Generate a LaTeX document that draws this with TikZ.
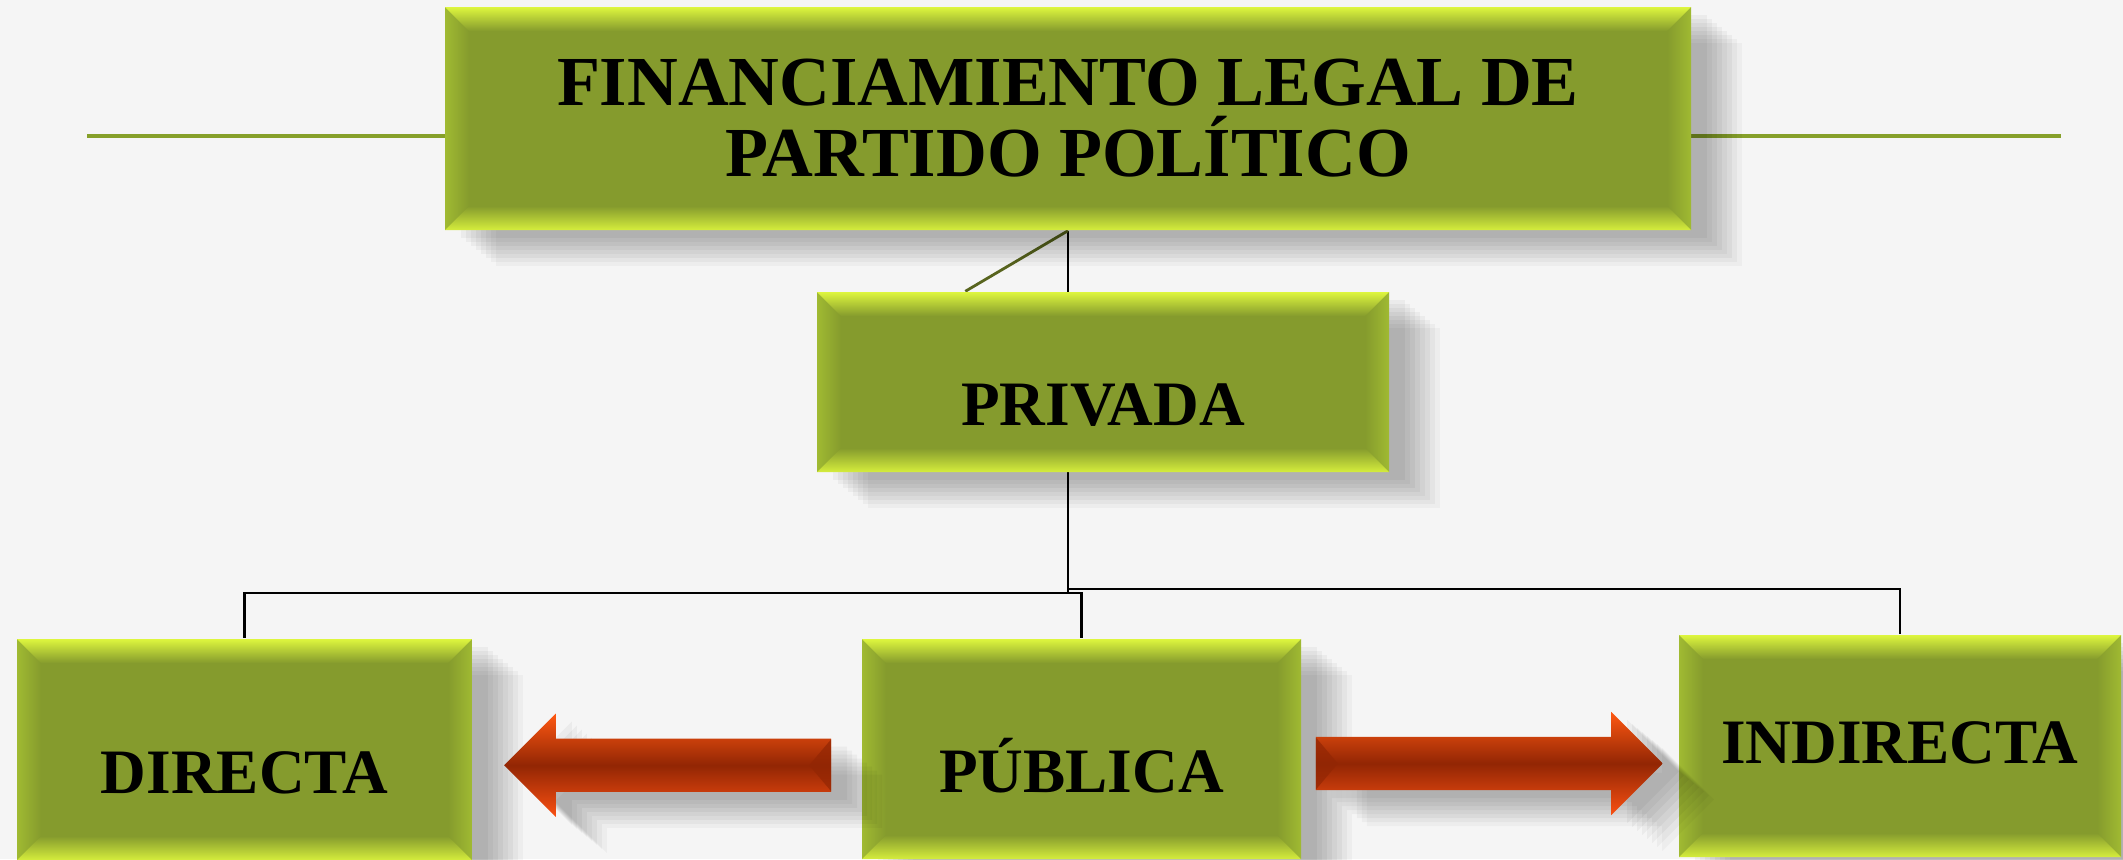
\documentclass[tikz,border=0pt]{standalone}
\usepackage{fontspec}
\setmainfont{Liberation Serif}
\usepackage{tikz}
\usetikzlibrary{shapes,arrows}
\usetikzlibrary{calc}
\usetikzlibrary{positioning,shadows,backgrounds}

\definecolor{fondo}{RGB}{245,245,245}
\definecolor{verdecaja}{RGB}{133,155,45}
\definecolor{verdeclaro}{RGB}{222,246,62}
\definecolor{verdelado}{RGB}{160,186,50}
\definecolor{verdelinea}{RGB}{134,160,42}
\definecolor{verdeoscuro}{RGB}{88,100,30}
\definecolor{rojoclaro}{RGB}{255,88,18}
\definecolor{rojooscuro}{RGB}{146,38,4}
\definecolor{rojomedio}{RGB}{250,80,18}

\begin{document}
\begin{tikzpicture}[
	soft_shadow/.style={
		drop shadow={shadow xshift=0.16cm, shadow yshift=-0.08cm, opacity=0.04, fill=black},
		drop shadow={shadow xshift=0.21cm, shadow yshift=-0.12cm, opacity=0.04, fill=black},
		drop shadow={shadow xshift=0.26cm, shadow yshift=-0.16cm, opacity=0.04, fill=black},
		drop shadow={shadow xshift=0.31cm, shadow yshift=-0.20cm, opacity=0.04, fill=black},
		drop shadow={shadow xshift=0.36cm, shadow yshift=-0.24cm, opacity=0.04, fill=black},
		drop shadow={shadow xshift=0.41cm, shadow yshift=-0.28cm, opacity=0.04, fill=black},
		drop shadow={shadow xshift=0.46cm, shadow yshift=-0.32cm, opacity=0.035, fill=black},
		drop shadow={shadow xshift=0.51cm, shadow yshift=-0.36cm, opacity=0.03, fill=black}},
	bevel_box/.style={rectangle, inner sep=0pt, fill=verdecaja, soft_shadow, align=center,
		font=\bfseries\fontsize{18}{20}\selectfont,
		path picture={
			\coordinate (sw) at (path picture bounding box.south west);
			\coordinate (ne) at (path picture bounding box.north east);
			\coordinate (nw) at (sw |- ne);
			\coordinate (se) at (ne |- sw);
			\shade[left color=verdelado, right color=verdecaja] (sw) -- (nw) -- ($(nw)+(0.24,-0.24)$) -- ($(sw)+(0.24,0.24)$) -- cycle;
			\shade[right color=verdelado, left color=verdecaja] (se) -- (ne) -- ($(ne)+(-0.24,-0.24)$) -- ($(se)+(-0.24,0.24)$) -- cycle;
			\shade[top color=verdeclaro, bottom color=verdecaja] (nw) -- (ne) -- ($(ne)+(-0.24,-0.24)$) -- ($(nw)+(0.24,-0.24)$) -- cycle;
			\shade[bottom color=verdeclaro!90!verdecaja, top color=verdecaja] (sw) -- (se) -- ($(se)+(-0.24,0.24)$) -- ($(sw)+(0.24,0.24)$) -- cycle;
		}},
	low_text/.style={text height=25pt, text depth=0pt},
	red_arrow/.style={single arrow, inner xsep=0pt, inner ysep=0.26cm, minimum width=1.02cm, single arrow head extend=0.25cm,
		top color=rojoclaro, bottom color=rojomedio, middle color=rojooscuro, soft_shadow},
	tail_facet/.style 2 args={path picture={
		\fill[rojooscuro, opacity=0.7] ($(path picture bounding box.#1)+(0,0.26)$) -- ++(#2,-0.26) -- ($(path picture bounding box.#1)+(0,-0.26)$) -- cycle;
		}},
	tree_line/.style={line width=0.6pt, black}]

	\useasboundingbox (0,0) rectangle (21.23,-8.59);

	% cajas
	\node[bevel_box, minimum width=12.46cm, minimum height=2.23cm, font=\bfseries\fontsize{20}{20.2}\selectfont] (titulo) at (10.68,-1.185) {FINANCIAMIENTO LEGAL DE\\PARTIDO POLÍTICO};
	\node[bevel_box, low_text, minimum width=5.72cm, minimum height=1.8cm] (privada) at (11.03,-3.82) {PRIVADA};
	\node[bevel_box, low_text, minimum width=4.55cm, minimum height=2.21cm] (directa) at (2.445,-7.495) {DIRECTA};
	\node[bevel_box, low_text, minimum width=4.39cm, minimum height=2.2cm] (publica) at (10.815,-7.49) {PÚBLICA};
	\node[bevel_box, text height=10pt, text depth=0pt, minimum width=4.42cm, minimum height=2.22cm] (indirecta) at (19.0,-7.46) {INDIRECTA};

	% flechas
	\node[red_arrow, tail_facet={east}{-0.22}, minimum height=3.27cm, shape border rotate=180, xshift=0.14cm, yshift=-0.16cm] (flecha_izq) at ($(directa.east)!0.5!(publica.west)$) {};
	\node[red_arrow, tail_facet={west}{0.22}, minimum height=3.47cm, xshift=-0.14cm, yshift=-0.16cm] (flecha_der) at ($(publica.east)!0.5!(indirecta.west)$) {};

	\coordinate (linea_izq) at (0.87,-1.36);
	\coordinate (linea_der) at (20.61,-1.36);

	\begin{pgfonlayer}{background}
		\fill[fondo] (0,0) rectangle (21.23,-8.59);
		\draw[line width=1.1pt, verdelinea] (linea_izq) -- (linea_der);
		\draw[tree_line] (titulo.south) -- ++(0,-3.62) -| (directa.north);
		\draw[tree_line] (titulo.south) ++(0,-3.62) -| (publica.north);
		\draw[tree_line] (titulo.south) -- ++(0,-3.58) -| (indirecta.north);
		\draw[line width=0.8pt, verdeoscuro] (titulo.south) -- ($(privada.north west)+(1.49,0)$);
	\end{pgfonlayer}
\end{tikzpicture}
\end{document}
